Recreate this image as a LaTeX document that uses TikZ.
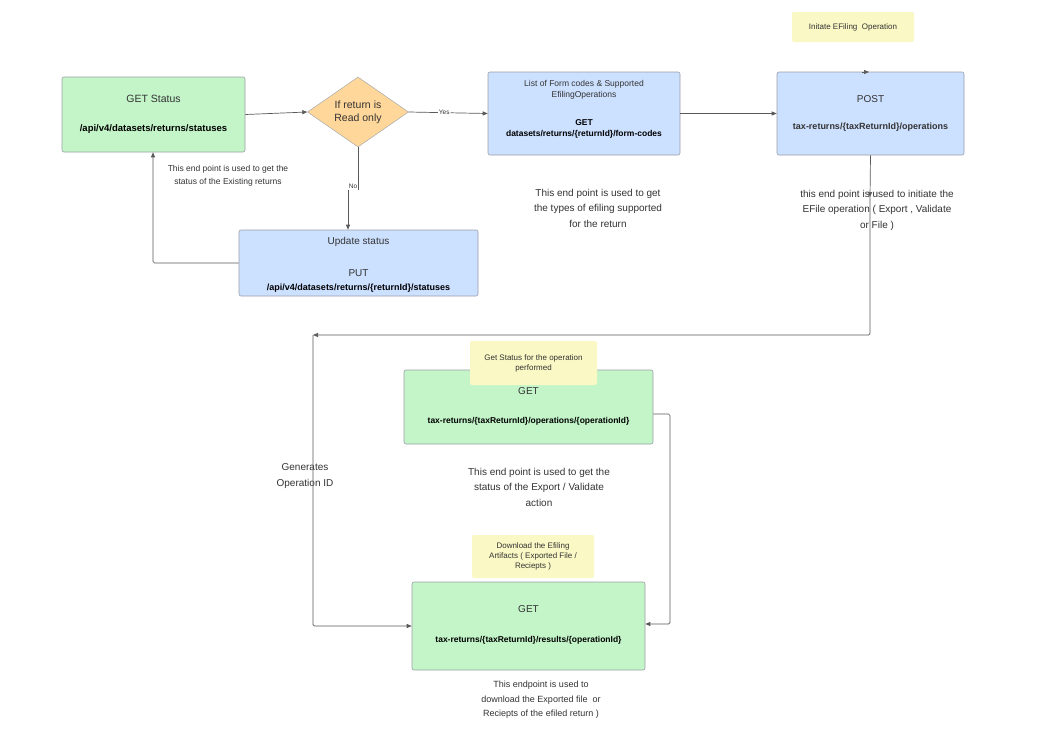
\documentclass[tikz,border=0pt]{standalone}
\usepackage{fontspec}
\setmainfont{Liberation Sans}
\usetikzlibrary{shapes.geometric,arrows.meta,decorations.markings}
\definecolor{gfill}{HTML}{C3F5C8}
\definecolor{bfill}{HTML}{CCE0FF}
\definecolor{ofill}{HTML}{FFD79A}
\definecolor{yfill}{HTML}{FAF8C4}
\definecolor{edge}{HTML}{9AA0A8}
\definecolor{txt}{HTML}{333333}
\begin{document}
\begin{tikzpicture}[x=1pt,y=-1pt,
  box/.style={draw=edge,rounded corners=2pt,line width=0.6pt,text=txt,align=center,inner sep=0pt},
  note/.style={fill=yfill,rounded corners=2pt,text=txt,align=center,font=\fontsize{8}{10}\selectfont,inner sep=0pt},
  desc/.style={text=txt,align=center,inner sep=0pt},
  conn/.style={draw=black!65,line width=0.7pt,-{Triangle[length=5pt,width=4pt]},rounded corners=1.5pt},
  tiny/.style={font=\fontsize{6.5}{7}\selectfont,text=txt}]
\useasboundingbox (0,0) rectangle (1046,750);
\fill[white] (0,0) rectangle (1046,750);
% boxes
\node[box,fill=gfill,minimum width=183pt,minimum height=75pt] (gs) at (153.5,114.5) {};
\node[text=txt,font=\fontsize{10.5}{12}\selectfont] at (153.5,99) {GET Status};
\node[font=\bfseries\fontsize{9.5}{11}\selectfont] at (153.5,129) {/api/v4/datasets/returns/statuses};
\node[diamond,draw=edge,fill=ofill,minimum width=101pt,minimum height=70pt,inner sep=0pt,aspect=1.45,text=txt,align=center,font=\fontsize{10.5}{13}\selectfont] (d) at (358,112) {If return is\\Read only};
\node[box,fill=bfill,minimum width=192pt,minimum height=83pt] (fc) at (584,113.5) {};
\node[text=txt,align=center,font=\fontsize{8.5}{10.5}\selectfont] at (584,90) {List of Form codes \& Supported\\EfilingOperations};
\node[align=center,font=\bfseries\fontsize{8.5}{10.5}\selectfont] at (584,129) {GET\\datasets/returns/\{returnId\}/form-codes};
\node[box,fill=bfill,minimum width=187pt,minimum height=83pt] (post) at (870.5,113.5) {};
\node[text=txt,font=\fontsize{10}{12}\selectfont] at (870.5,99) {POST};
\node[text=txt,font=\bfseries\fontsize{9}{11}\selectfont] at (870.5,127) {tax-returns/\{taxReturnId\}/operations};
\node[note,minimum width=122pt,minimum height=30pt] (n1) at (853,27) {Initate EFiling\ \ Operation};
\node[box,fill=bfill,minimum width=239pt,minimum height=66pt] (us) at (358.5,263) {};
\node[text=txt,font=\fontsize{10}{12}\selectfont] at (358.5,242) {Update status};
\node[text=txt,font=\fontsize{10}{12}\selectfont] at (358.5,273) {PUT};
\node[font=\bfseries\fontsize{9}{11}\selectfont] at (358.5,288) {/api/v4/datasets/returns/\{returnId\}/statuses};
\node[box,fill=gfill,minimum width=249pt,minimum height=74pt] (ops) at (528.5,407) {};
\node[text=txt,font=\fontsize{10}{12}\selectfont] at (528.5,391) {GET};
\node[font=\bfseries\fontsize{8.5}{10}\selectfont] at (528.5,421) {tax-returns/\{taxReturnId\}/operations/\{operationId\}};
\node[note,minimum width=127pt,minimum height=44pt] (n2) at (533.5,363) {Get Status for the operation\\performed};
\node[box,fill=gfill,minimum width=233pt,minimum height=88pt] (res) at (528.5,626) {};
\node[text=txt,font=\fontsize{10}{12}\selectfont] at (528.5,609) {GET};
\node[font=\bfseries\fontsize{8.5}{10}\selectfont] at (528.5,640) {tax-returns/\{taxReturnId\}/results/\{operationId\}};
\node[note,minimum width=122pt,minimum height=43pt] (n3) at (533,556.5) {Download the Efiling\\Artifacts ( Exported File /\\Reciepts )};
% descriptions
\node[desc,font=\fontsize{8.5}{13}\selectfont] (t1) at (228,176) {This end point is used to get the\\status of the Existing returns};
\node[desc,font=\fontsize{10}{15.5}\selectfont] (t2) at (598,208) {This end point is used to get\\the types of efiling supported\\for the return};
\node[desc,font=\fontsize{10}{15.5}\selectfont] (t3) at (877,210) {this end point is used to initiate the\\EFile operation ( Export , Validate\\or File )};
\node[desc,font=\fontsize{10}{15.5}\selectfont] (t4) at (305,476) {Generates\\Operation ID};
\node[desc,font=\fontsize{10}{15.5}\selectfont] (t5) at (539,487) {This end point is used to get the\\status of the Export / Validate\\action};
\node[desc,font=\fontsize{9}{14.5}\selectfont] (t6) at (541,700) {This endpoint is used to\\download the Exported file\ \ or\\Reciepts of the efiled return )};
% connectors
\draw[conn] (gs.east) -- (d.west);
\draw[conn] (d.east) -- node[tiny,fill=white,inner sep=1pt,pos=0.45] {Yes} (fc.west);
\coordinate (nb) at (358,190);
\coordinate (nc) at (348,190);
\draw[draw=black!65,line width=0.7pt] (d.south) -- (nb);
\node[tiny,fill=white,inner sep=1pt] at (353,186) {No};
\draw[conn] (nc) -- (us.north -| nc);
\coordinate (uw) at (153,263);
\draw[conn] (us.west) -- (uw) -- (gs.south -| uw);
\draw[conn] (fc.east) -- (post.west);
\coordinate (pt) at (862,72);
\draw[conn] (pt) -- (869,72);
\coordinate (pd) at (870,335);
\coordinate (pl) at (313,335);
\draw[conn] (post.south) -- (870,197);
\draw[conn] (870,196) -- (pd) -- (pl);
\draw[conn] (pl) -- (313,626) -- (res.west |- 0,626);
\coordinate (or) at (670,414);
\draw[conn] (ops.east |- or) -- (or) -- (670,624) -- (res.east |- 0,624);
\end{tikzpicture}
\end{document}
